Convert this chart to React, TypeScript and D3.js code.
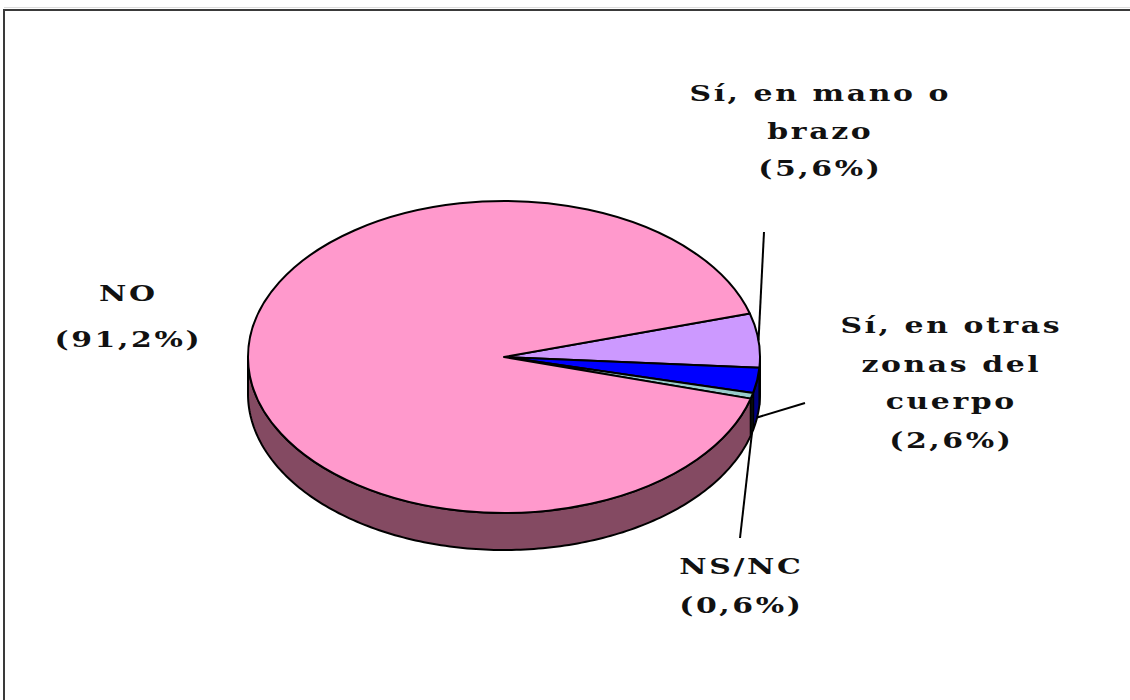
import React from "react";
import * as d3 from "d3";

// ---- data ----
const categories = ["Sí, en mano o brazo", "Sí, en otras zonas del cuerpo", "NS/NC", "NO"];
const values = [5.6, 2.6, 0.6, 91.2];
const valueLabels = ["(5,6%)", "(2,6%)", "(0,6%)", "(91,2%)"];
const labelLines = [["Sí, en mano o", "brazo"], ["Sí, en otras", "zonas del", "cuerpo"], ["NS/NC"], ["NO"]];
const topColors = ["#CC99FF", "#0000FF", "#99CCCC", "#FF99CC"];
const sideColors = ["#6A4E8A", "#000080", "#4F6B6B", "#844A62"];

// ---- layout ----
const W = 1130;
const H = 700;
const cx = 504;
const cy = 357;
const rx = 256;
const ry = 156;
const depth = 37;
const startAngle = (73.8 * Math.PI) / 180;

type LabelLayout = { x: number; baselines: number[]; lineEnd?: [number, number]; onSide?: boolean };
const labelLayout: LabelLayout[] = [
  { x: 819, baselines: [101, 139, 176], lineEnd: [764, 232], onSide: false },
  { x: 950, baselines: [333, 372, 409, 448], lineEnd: [805, 403], onSide: true },
  { x: 740, baselines: [574, 613], lineEnd: [740, 538], onSide: true },
  { x: 127, baselines: [301, 347] },
];

const FONT = "'DejaVu Serif', serif";
const FS = 23;
const LS = 2;
const SX = 1.3;

function pt(a: number, dy = 0): [number, number] {
  return [cx + rx * Math.sin(a), cy - ry * Math.cos(a) + dy];
}

export default function App() {
  const pie = d3
    .pie<number>()
    .sort(null)
    .value((d) => d)
    .startAngle(startAngle)
    .endAngle(startAngle + 2 * Math.PI);
  const arcs = pie(values);
  const arcGen = d3.arc<d3.PieArcDatum<number>>().innerRadius(0).outerRadius(rx);
  const lineGen = d3.line<[number, number]>();

  const walls = arcs.map((a, i) => {
    const lo = Math.max(a.startAngle, Math.PI / 2);
    const hi = Math.min(a.endAngle, (3 * Math.PI) / 2);
    if (hi <= lo) return null;
    const steps = Math.max(2, Math.ceil(((hi - lo) * 180) / Math.PI));
    const angs = d3.range(steps + 1).map((k) => lo + ((hi - lo) * k) / steps);
    const top = angs.map((t) => pt(t));
    const bot = angs.slice().reverse().map((t) => pt(t, depth));
    const d = lineGen([...top, ...bot]) + "Z";
    return <path key={"w" + i} d={d} fill={sideColors[i]} stroke="#000" strokeWidth={2} strokeLinejoin="round" />;
  });

  return (
    <svg
      width={W}
      height={H}
      style={{ position: "absolute", left: 0, top: 0, display: "block", background: "#fff" }}
    >
      <rect x={0} y={0} width={W} height={H} fill="#fff" />
      <line x1={4} y1={7.5} x2={W} y2={7.5} stroke="#ddd" strokeWidth={1} />
      <rect x={4} y={10} width={W + 20} height={H + 20} fill="none" stroke="#3a3a3a" strokeWidth={2} />

      {walls}
      <g transform={`translate(${cx},${cy}) scale(1,${ry / rx})`}>
        {arcs.map((a, i) => (
          <path
            key={"t" + i}
            d={arcGen(a) || ""}
            fill={topColors[i]}
            stroke="#000"
            strokeWidth={2}
            strokeLinejoin="round"
            vectorEffect="non-scaling-stroke"
          />
        ))}
      </g>

      {arcs.map((a, i) => {
        const L = labelLayout[i];
        if (!L.lineEnd) return null;
        const mid = (a.startAngle + a.endAngle) / 2;
        const p = pt(mid, L.onSide ? depth : 0);
        return (
          <line
            key={"l" + i}
            x1={p[0]}
            y1={p[1]}
            x2={L.lineEnd[0]}
            y2={L.lineEnd[1]}
            stroke="#000"
            strokeWidth={2}
          />
        );
      })}

      {categories.map((c, i) => {
        const L = labelLayout[i];
        const lines = [...labelLines[i], valueLabels[i]];
        return (
          <g key={"lab" + i} aria-label={c}>
            {lines.map((t, k) => (
              <text
                key={k}
                transform={`translate(${L.x},${L.baselines[k]}) scale(${SX},1)`}
                x={LS / 2}
                textAnchor="middle"
                fontFamily={FONT}
                fontWeight="bold"
                fontSize={FS}
                letterSpacing={LS}
                fill="#111"
              >
                {t}
              </text>
            ))}
          </g>
        );
      })}
    </svg>
  );
}
